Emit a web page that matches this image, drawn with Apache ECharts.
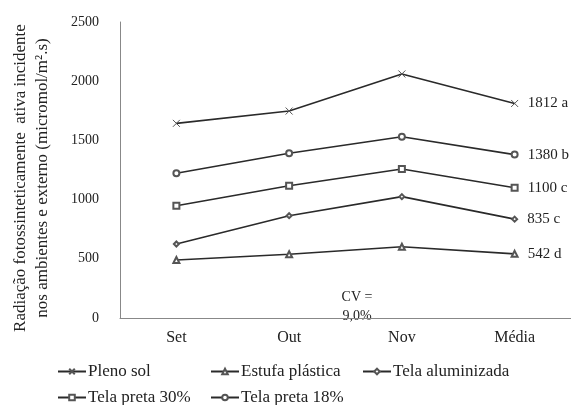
<!DOCTYPE html>
<html>
<head>
<meta charset="utf-8">
<script src="https://cdn.jsdelivr.net/npm/echarts@6/dist/echarts.min.js"></script>
<style>html,body{margin:0;padding:0;background:#fff;}#c{width:571px;height:405px;}</style>
</head>
<body>
<div id="c"></div>
<script>
var categories = ['Set', 'Out', 'Nov', 'Média'];
var plenoSol = [1644, 1748, 2061, 1812];
var estufaPlastica = [490, 538, 602, 542];
var telaAluminizada = [625, 864, 1025, 835];
var telaPreta30 = [948, 1117, 1258, 1100];
var telaPreta18 = [1222, 1391, 1531, 1380];
var seriesNames = ['Pleno sol', 'Estufa plástica', 'Tela aluminizada', 'Tela preta 30%', 'Tela preta 18%'];
var mediaLabels = ['1812 a', '542 d', '835 c', '1100 c', '1380 b'];
var yTicks = [0, 500, 1000, 1500, 2000, 2500];

var FONT = 'Liberation Serif';
var INK = '#222';
var LINE = '#2a2a2a';

var chart = echarts.init(document.getElementById('c'), null, {renderer: 'canvas'});

var symbols = [
  'path://M0,0L10,10M10,0L0,10',
  'emptyTriangle',
  'emptyDiamond',
  'emptyRect',
  'emptyCircle'
];
var sizes = [7, 6, 5, 6, 6];
var allData = [plenoSol, estufaPlastica, telaAluminizada, telaPreta30, telaPreta18];

var series = allData.map(function (arr, i) {
  return {
    name: seriesNames[i],
    type: 'line',
    symbol: symbols[i],
    symbolSize: sizes[i],
    showAllSymbol: true,
    color: LINE,
    lineStyle: {color: LINE, width: 1.6},
    itemStyle: {color: '#555', borderColor: '#555', borderWidth: 1},
    data: arr.map(function (v, j) {
      if (j === arr.length - 1) {
        return {value: v, label: {show: true, position: 'right', distance: 9,
          formatter: mediaLabels[i], fontFamily: FONT, fontSize: 15, color: INK}};
      }
      return v;
    }),
    animation: false
  };
});

var legendPos = [
  {left: 57, top: 363}, {left: 210, top: 363}, {left: 362, top: 363},
  {left: 57, top: 389}, {left: 210, top: 389}
];
var legends = seriesNames.map(function (n, i) {
  return {
    data: [n], left: legendPos[i].left, top: legendPos[i].top,
    itemWidth: 28, itemHeight: 7, itemGap: 0,
    textStyle: {fontFamily: FONT, fontSize: 17, color: INK, padding: [0, 0, 0, -3]},
    padding: 0
  };
});

chart.setOption({
  animation: false,
  backgroundColor: '#fff',
  grid: {left: 120, right: -3, top: 22, bottom: 87},
  legend: legends,
  xAxis: {
    type: 'category',
    data: categories,
    boundaryGap: true,
    axisLine: {lineStyle: {color: '#888', width: 1}},
    axisTick: {show: false},
    axisLabel: {fontFamily: FONT, fontSize: 16, color: INK, margin: 12}
  },
  yAxis: {
    type: 'value',
    min: yTicks[0], max: yTicks[yTicks.length - 1], interval: 500,
    axisLine: {show: true, lineStyle: {color: '#888', width: 1}},
    axisTick: {show: false},
    splitLine: {show: false},
    axisLabel: {fontFamily: FONT, fontSize: 14, color: INK, margin: 21,
      formatter: function (v) { return String(v); }}
  },
  graphic: [
    {
      type: 'text', x: 32, y: 178, rotation: Math.PI / 2,
      style: {
        text: 'Radiação fotossinteticamente  ativa incidente\nnos ambientes e externo (micromol/m².s)',
        fontFamily: FONT, fontSize: 17, fill: INK, lineHeight: 22,
        textAlign: 'center', textVerticalAlign: 'middle'
      }
    },
    {
      type: 'text', x: 357, y: 307,
      style: {
        text: 'CV =\n9,0%', fontFamily: FONT, fontSize: 14, fill: INK, lineHeight: 19,
        textAlign: 'center', textVerticalAlign: 'middle'
      }
    }
  ],
  series: series
});
</script>
</body>
</html>
